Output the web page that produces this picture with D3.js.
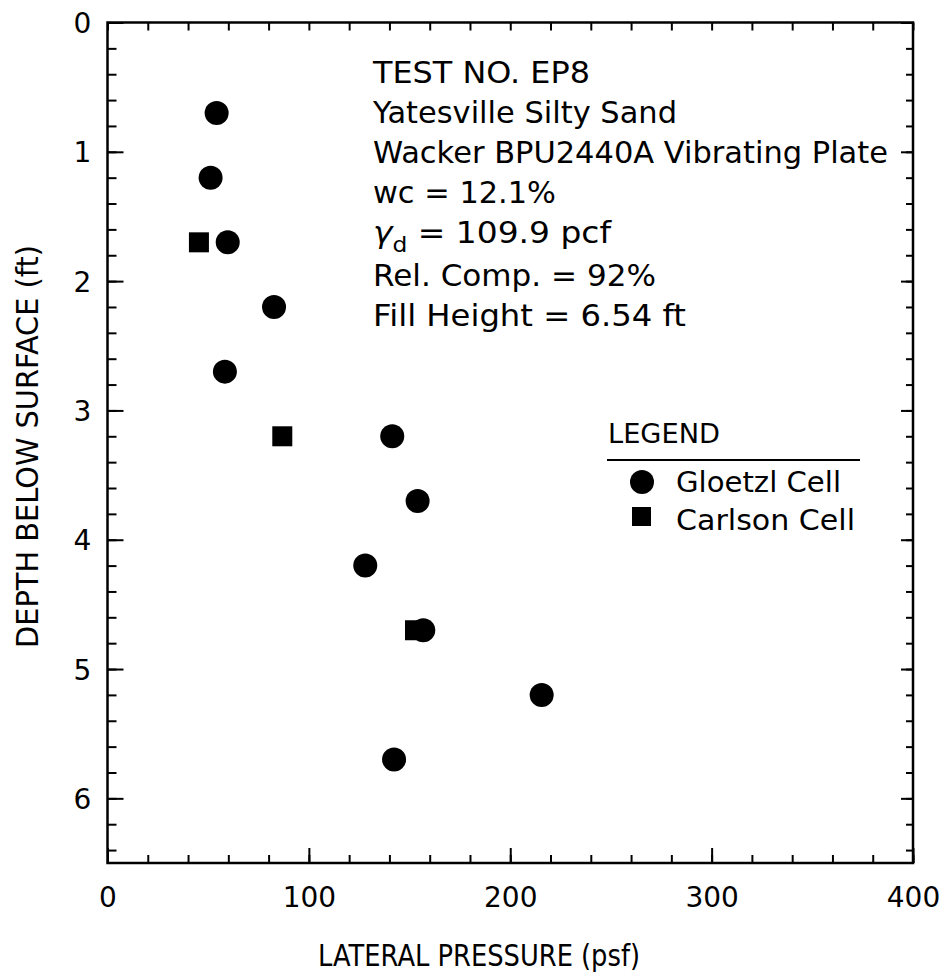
<!DOCTYPE html>
<html>
<head>
<meta charset="utf-8">
<script src="https://cdn.jsdelivr.net/npm/d3@7"></script>
<style>
  html, body { margin: 0; padding: 0; background: #fff; }
  svg { display: block; font-family: "DejaVu Sans", sans-serif; }
</style>
</head>
<body>
<svg id="chart" width="951" height="976"></svg>
<script>
// Depths (ft) and lateral pressures (psf) for each earth pressure cell
const gloetzlDepth = [0.7, 1.2, 1.7, 2.2, 2.7, 3.2, 3.7, 4.2, 4.7, 5.2, 5.7];
const gloetzlPressure = [54.2, 51.2, 59.7, 82.7, 58.3, 141.4, 154.0, 128.0, 156.8, 215.6, 142.3];
const carlsonDepth = [1.7, 3.2, 4.7];
const carlsonPressure = [45.4, 86.8, 152.7];

const xMajorTicks = [0, 100, 200, 300, 400];
const yMajorTicks = [0, 1, 2, 3, 4, 5, 6];

const infoLines = [
  "TEST NO. EP8",
  "Yatesville Silty Sand",
  "Wacker BPU2440A Vibrating Plate",
  "wc = 12.1%",
  "γd = 109.9 pcf",
  "Rel. Comp. = 92%",
  "Fill Height = 6.54 ft"
];
const legendItems = ["Gloetzl Cell", "Carlson Cell"];

const svg = d3.select("#chart");
const L = 107.5, R = 913, T = 22.5, B = 863;

const x = d3.scaleLinear().domain([0, 400]).range([L, R]);
const y = d3.scaleLinear().domain([0, 6.5]).range([T, B]);

const xMinor = d3.range(0, 21).map(i => i * 20);
const yMinor = d3.range(0, 33).map(i => +(i * 0.2).toFixed(1));

function styleAxis(g) {
  g.select(".domain").remove();
  g.selectAll(".tick line").attr("stroke", "#000").attr("stroke-width", 2);
}

// bottom axis: minor then major ticks (pointing inward) with labels
svg.append("g").attr("transform", `translate(0,${B})`)
  .call(d3.axisBottom(x).tickValues(xMinor).tickSize(-8).tickFormat(""))
  .call(styleAxis);
const xb = svg.append("g").attr("transform", `translate(0,${B})`)
  .call(d3.axisBottom(x).tickValues(xMajorTicks).tickSize(-15).tickFormat(d3.format("d")))
  .call(styleAxis);
xb.selectAll(".tick text")
  .attr("y", 44).attr("dy", 0)
  .attr("font-size", 28).attr("font-family", "DejaVu Sans").attr("fill", "#000");

// top axis
svg.append("g").attr("transform", `translate(0,${T})`)
  .call(d3.axisTop(x).tickValues(xMinor).tickSize(-8).tickFormat(""))
  .call(styleAxis);

// left axis
svg.append("g").attr("transform", `translate(${L},0)`)
  .call(d3.axisLeft(y).tickValues(yMinor).tickSize(-9).tickFormat(""))
  .call(styleAxis);
const yl = svg.append("g").attr("transform", `translate(${L},0)`)
  .call(d3.axisLeft(y).tickValues(yMajorTicks).tickSize(-16).tickFormat(d3.format("d")))
  .call(styleAxis);
yl.selectAll(".tick text")
  .attr("x", -25).attr("dy", "0.36em").attr("text-anchor", "middle")
  .attr("font-size", 28).attr("font-family", "DejaVu Sans").attr("fill", "#000");

// right axis
svg.append("g").attr("transform", `translate(${R},0)`)
  .call(d3.axisRight(y).tickValues(yMinor).tickSize(-7).tickFormat(""))
  .call(styleAxis);
svg.append("g").attr("transform", `translate(${R},0)`)
  .call(d3.axisRight(y).tickValues(yMajorTicks).tickSize(-12).tickFormat(""))
  .call(styleAxis);

// frame
svg.append("rect")
  .attr("x", L).attr("y", T).attr("width", R - L).attr("height", B - T)
  .attr("fill", "none").attr("stroke", "#000").attr("stroke-width", 2.5);

// axis titles
svg.append("text")
  .attr("x", 318).attr("y", 966)
  .attr("font-size", 30).attr("textLength", 322).attr("lengthAdjust", "spacingAndGlyphs")
  .text("LATERAL PRESSURE (psf)");
svg.append("text")
  .attr("transform", "translate(38,648) rotate(-90)")
  .attr("font-size", 30).attr("textLength", 403).attr("lengthAdjust", "spacingAndGlyphs")
  .text("DEPTH BELOW SURFACE (ft)");

// test information block
const infoX = 373;
const infoBase = [83, 123, 163, 203, 243, 286, 326];
const infoWidth = [217, 304, 515, 183, 238, 283, 313];
infoLines.forEach((line, i) => {
  const t = svg.append("text")
    .attr("x", infoX).attr("y", infoBase[i])
    .attr("font-size", 29.5)
    .attr("textLength", infoWidth[i]).attr("lengthAdjust", "spacingAndGlyphs");
  if (line.startsWith("γd")) {
    t.append("tspan").attr("font-style", "italic").text("γ");
    t.append("tspan").attr("font-size", 21).attr("dy", 9).text("d");
    t.append("tspan").attr("dy", -9).text(line.slice(2));
  } else {
    t.text(line);
  }
});

// data markers
svg.append("g").selectAll("circle")
  .data(gloetzlPressure.map((p, i) => [p, gloetzlDepth[i]]))
  .join("circle")
  .attr("cx", d => x(d[0])).attr("cy", d => y(d[1]))
  .attr("r", 12).attr("fill", "#000");

const sq = 20;
svg.append("g").selectAll("rect")
  .data(carlsonPressure.map((p, i) => [p, carlsonDepth[i]]))
  .join("rect")
  .attr("x", d => x(d[0]) - sq / 2).attr("y", d => y(d[1]) - sq / 2)
  .attr("width", sq).attr("height", sq).attr("fill", "#000");

// legend
const lg = svg.append("g");
lg.append("text").attr("x", 608).attr("y", 443)
  .attr("font-size", 27).attr("textLength", 112).attr("lengthAdjust", "spacingAndGlyphs")
  .text("LEGEND");
lg.append("line").attr("x1", 607).attr("x2", 860).attr("y1", 460).attr("y2", 460)
  .attr("stroke", "#000").attr("stroke-width", 2);
lg.append("circle").attr("cx", 642).attr("cy", 482).attr("r", 12).attr("fill", "#000");
lg.append("rect").attr("x", 632).attr("y", 507).attr("width", 19).attr("height", 19).attr("fill", "#000");
const legendBase = [492, 530];
const legendWidth = [165, 179];
legendItems.forEach((name, i) => {
  lg.append("text").attr("x", 676).attr("y", legendBase[i])
    .attr("font-size", 28).attr("textLength", legendWidth[i]).attr("lengthAdjust", "spacingAndGlyphs")
    .text(name);
});
</script>
</body>
</html>
